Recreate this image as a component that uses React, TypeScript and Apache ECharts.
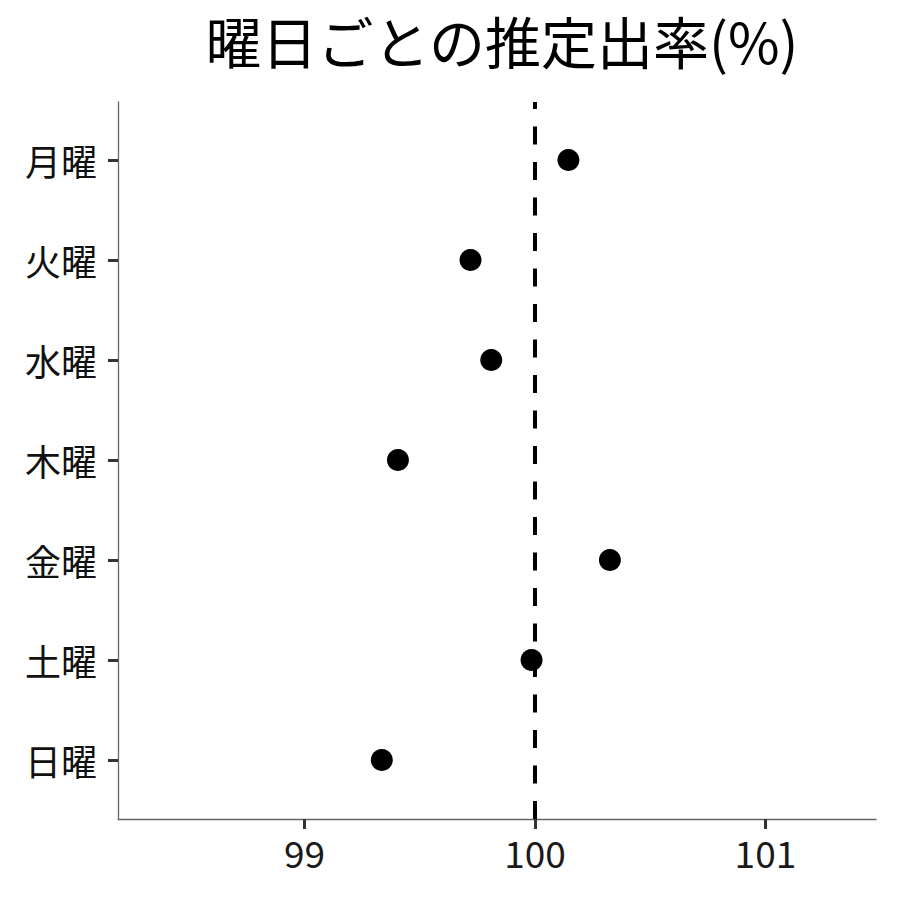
import React, { useEffect, useRef } from "react";
import * as echarts from "echarts";

const days = ["月曜", "火曜", "水曜", "木曜", "金曜", "土曜", "日曜"];
const rates = [100.145, 99.72, 99.81, 99.405, 100.325, 99.985, 99.335];
const xTicks = [99, 100, 101];
const refValue = 100;
const titleText = "曜日ごとの推定出率(%)";

const FONT = "'Noto Sans CJK JP', 'Noto Sans', sans-serif";
const Y_MIN = 0.42;
const Y_MAX = 7.59;

export default function App() {
  const ref = useRef<HTMLDivElement>(null);
  useEffect(() => {
    if (!ref.current) return;
    const chart = echarts.init(ref.current, null, { renderer: "svg" });
    const yIdx = days.map((_, i) => i + 1);
    chart.setOption({
      animation: false,
      backgroundColor: "#ffffff",
      title: {
        text: titleText,
        left: 497,
        top: 6,
        textAlign: "center",
        textStyle: { fontFamily: FONT, fontSize: 56, fontWeight: "normal", color: "#000" },
      },
      grid: { left: 118, right: 24, top: 102, bottom: 81 },
      xAxis: {
        type: "value",
        min: 98.19,
        max: 101.48,
        splitLine: { show: false },
        axisLine: { show: true, lineStyle: { color: "#666", width: 1.3 } },
        axisTick: { show: true, length: 10, lineStyle: { color: "#333", width: 3 }, customValues: xTicks },
        axisLabel: {
          customValues: xTicks,
          margin: 14,
          fontFamily: FONT,
          fontSize: 37,
          color: "#1a1a1a",
        },
      },
      yAxis: {
        type: "value",
        inverse: true,
        min: Y_MIN,
        max: Y_MAX,
        splitLine: { show: false },
        axisLine: { show: true, lineStyle: { color: "#666", width: 1.3 } },
        axisTick: { show: true, length: 10, lineStyle: { color: "#333", width: 3 }, customValues: yIdx },
        axisLabel: {
          customValues: yIdx,
          margin: 21,
          fontFamily: FONT,
          fontSize: 36,
          color: "#111",
          formatter: (v: number) => days[Math.round(v) - 1] ?? "",
        },
      },
      series: [
        {
          type: "scatter",
          symbol: "circle",
          symbolSize: 22,
          itemStyle: { color: "#000", opacity: 1 },
          data: rates.map((r, i) => [r, i + 1]),
          markLine: {
            silent: true,
            symbol: ["none", "none"],
            label: { show: false },
            lineStyle: { color: "#000", type: [18, 17.5], width: 4, opacity: 1 },
            data: [[{ coord: [refValue, Y_MAX] }, { coord: [refValue, Y_MIN] }]],
          },
          z: 3,
        },
      ],
    });
    return () => chart.dispose();
  }, []);
  return (
    <div
      ref={ref}
      style={{ position: "absolute", left: 0, top: 0, width: 900, height: 900 }}
    />
  );
}
